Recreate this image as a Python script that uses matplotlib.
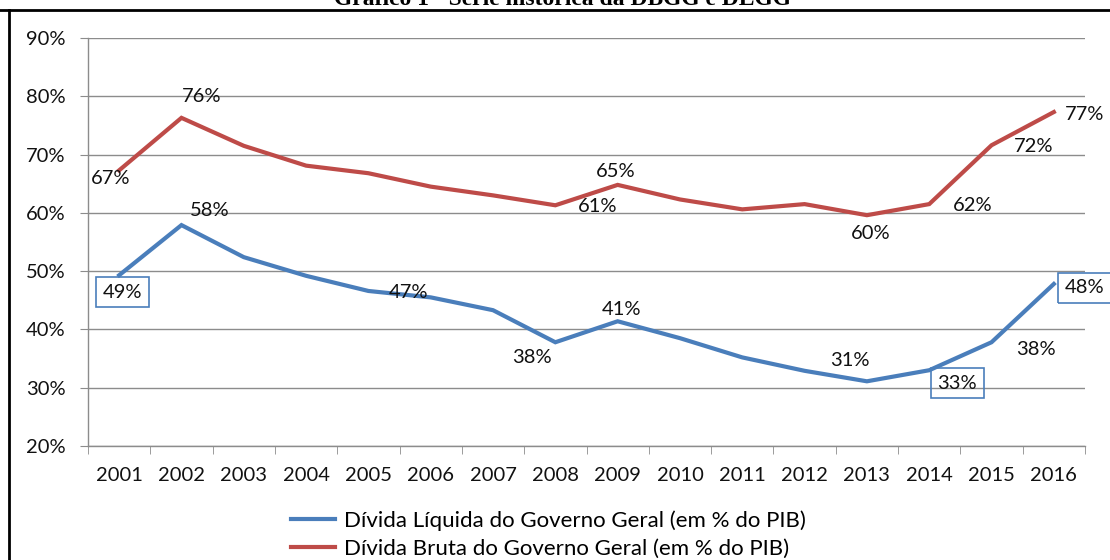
import numpy as np
import matplotlib
matplotlib.use("Agg")
import matplotlib.pyplot as plt
from matplotlib.lines import Line2D

plt.rcParams['font.family'] = ['Lato', 'DejaVu Sans']

years = ['2001', '2002', '2003', '2004', '2005', '2006', '2007', '2008',
         '2009', '2010', '2011', '2012', '2013', '2014', '2015', '2016']
dlgg = [49.3, 57.9, 52.4, 49.2, 46.6, 45.5, 43.3, 37.8,
        41.4, 38.5, 35.2, 32.9, 31.1, 33.0, 37.8, 47.8]
dbgg = [67.3, 76.3, 71.5, 68.1, 66.8, 64.5, 63.0, 61.3,
        64.8, 62.3, 60.6, 61.5, 59.6, 61.5, 71.6, 77.3]

label_dlgg = 'Dívida Líquida do Governo Geral (em % do PIB)'
label_dbgg = 'Dívida Bruta do Governo Geral (em % do PIB)'

BLUE = '#4A7EBB'
RED = '#BE4B48'
GRID = '#8C8C8C'
FS = 14.5

# (index, dx, dy in pixels, boxed)
blue_labels = [(0, 3, -17, True), (1, 28, 15, False), (4, 40, -2, False),
               (7, -23, -15, False), (8, 4, 12, False), (12, -17, 21, False),
               (13, 28, -13, True), (14, 44, -7, False), (15, 31, -4, True)]
red_labels = [(0, -9, -8), (1, 20, 21), (7, 42, -1), (8, -2, 13),
              (12, 4, -18), (13, 43, -1), (14, 42, -1), (15, 31, -2)]

fig = plt.figure(figsize=(11.1, 5.6), dpi=100)
ax = fig.add_axes([88 / 1110, 1 - 446 / 560, (1085 - 88) / 1110, (446 - 38) / 560])

x = np.arange(len(years))
ax.plot(x, dlgg, color=BLUE, lw=3.0, solid_joinstyle='miter', zorder=3)
ax.plot(x, dbgg, color=RED, lw=3.0, solid_joinstyle='miter', zorder=3)

ax.set_xlim(-0.5, len(years) - 0.5)
ax.set_ylim(20, 90)
ax.set_yticks(np.arange(20, 91, 10))
ax.set_yticklabels([f'{v}%' for v in range(20, 91, 10)])
ax.set_xticks(x)
ax.set_xticklabels(years)
ax.set_xticks(np.arange(-0.5, len(years), 1), minor=True)

ax.grid(axis='y', color=GRID, lw=1.0)
ax.set_axisbelow(True)
for s in ['top', 'right']:
    ax.spines[s].set_visible(False)
for s in ['left', 'bottom']:
    ax.spines[s].set_color(GRID)
    ax.spines[s].set_linewidth(1.0)

ax.tick_params(axis='y', length=6, color=GRID, pad=10, labelsize=FS, labelcolor='#111111')
ax.tick_params(axis='x', which='major', length=0, pad=15, labelsize=FS, labelcolor='#111111')
ax.tick_params(axis='x', which='minor', length=6, color=GRID)

for i, dx, dy, boxed in blue_labels:
    kw = {}
    if boxed:
        kw['bbox'] = dict(boxstyle='square,pad=0.33', fc='none', ec=BLUE, lw=1.2)
    ax.annotate(f'{round(dlgg[i])}%', (x[i], dlgg[i]), xytext=(dx, dy),
                textcoords='offset pixels', ha='center', va='center',
                fontsize=FS, color='#111111', annotation_clip=False, zorder=4, **kw)
for i, dx, dy in red_labels:
    ax.annotate(f'{round(dbgg[i])}%', (x[i], dbgg[i]), xytext=(dx, dy),
                textcoords='offset pixels', ha='center', va='center',
                fontsize=FS, color='#111111', annotation_clip=False, zorder=4)

handles = [Line2D([], [], color=BLUE, lw=3.0), Line2D([], [], color=RED, lw=3.0)]
fig.legend(handles, [label_dlgg, label_dbgg], loc='upper left',
           bbox_to_anchor=(291 / 1110, 1 - 510 / 560), frameon=False,
           fontsize=16, handlelength=2.0, handletextpad=0.4,
           labelspacing=0.38, borderpad=0, borderaxespad=0)

# clipped title and frame of the original figure
fig.text(563 / 1110, 1 - 5 / 560, 'Gráfico 1 - Série histórica da DBGG e DLGG',
         ha='center', va='baseline', fontsize=17, fontweight='bold',
         family='Liberation Serif')
fig.add_artist(Line2D([0, 1], [1 - 10 / 560, 1 - 10 / 560], color='black', lw=2,
                      transform=fig.transFigure))
fig.add_artist(Line2D([9 / 1110, 9 / 1110], [0, 1 - 10 / 560], color='black', lw=2,
                      transform=fig.transFigure))

fig.savefig('out.png', dpi=100)
